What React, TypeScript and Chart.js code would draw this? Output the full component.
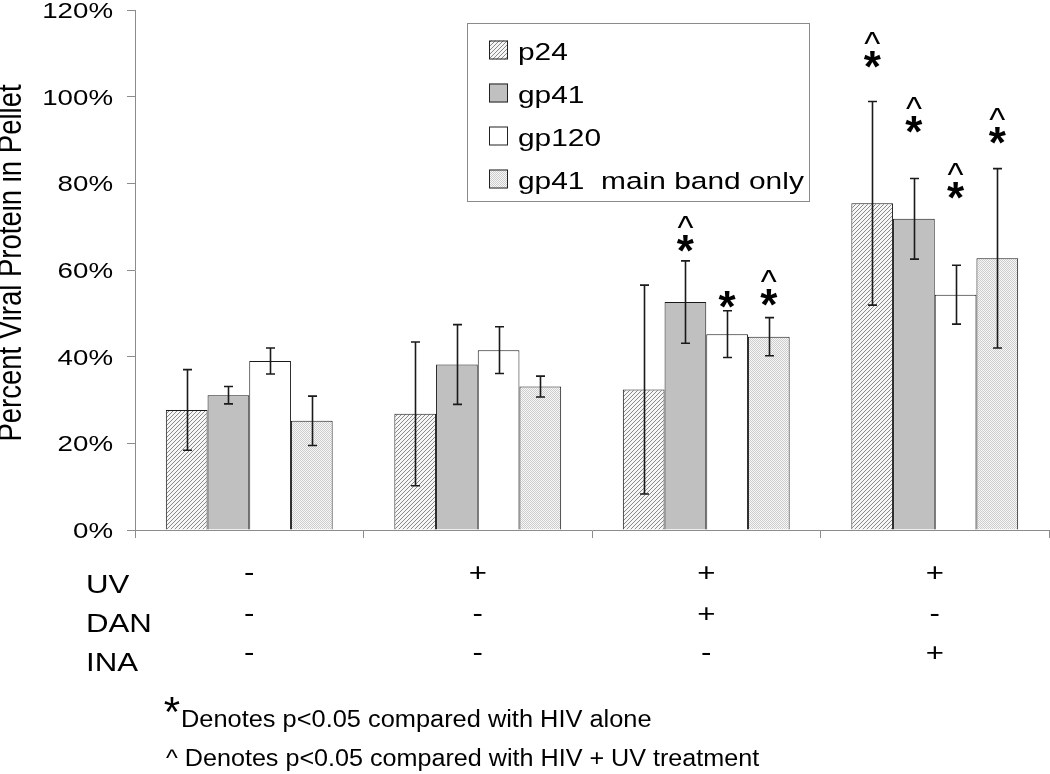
import React, { useEffect, useRef } from "react";
import { Chart, registerables } from "chart.js";

Chart.register(...registerables);

// ---------- data ----------
const categories = ["HIV alone", "HIV + UV", "HIV + UV + DAN", "HIV + UV + INA"];
const seriesNames = ["p24", "gp41", "gp120", "gp41  main band only"];

const p24 = [27.7, 26.8, 32.4, 75.4];
const p24Err = [9.3, 16.6, 24.1, 23.5];
const gp41 = [31.1, 38.2, 52.6, 71.8];
const gp41Err = [2.0, 9.2, 9.5, 9.3];
const gp120 = [39.0, 41.5, 45.2, 54.3];
const gp120Err = [3.0, 5.4, 5.4, 6.8];
const gp41Main = [25.2, 33.1, 44.6, 62.7];
const gp41MainErr = [5.7, 2.4, 4.4, 20.7];

// significance marks ("*" = vs HIV alone, "^" = vs HIV + UV) and the value level of the "*"
const p24Marks = ["", "", "", "^*"];
const p24MarkAt = [0, 0, 0, 108.9];
const gp41Marks = ["", "", "^*", "^*"];
const gp41MarkAt = [0, 0, 66.4, 93.9];
const gp120Marks = ["", "", "*", "^*"];
const gp120MarkAt = [0, 0, 53.6, 78.8];
const gp41MainMarks = ["", "", "^*", "^*"];
const gp41MainMarkAt = [0, 0, 53.9, 91.3];

const yTickValues = [0, 20, 40, 60, 80, 100, 120];

const rowLabels = ["UV", "DAN", "INA"];
const uvRow = ["-", "+", "+", "+"];
const danRow = ["-", "-", "+", "-"];
const inaRow = ["-", "-", "-", "+"];

const yTitle = "Percent Viral Protein in Pellet";
const footStar = "Denotes p<0.05 compared with HIV alone";
const footCaret = "^ Denotes p<0.05 compared with HIV + UV treatment";

// ---------- helpers ----------
const FONT = '"Liberation Sans", Arial, sans-serif';
const SX = 1.2;

function txt(
  ctx: CanvasRenderingContext2D,
  s: string,
  x: number,
  y: number,
  size: number,
  o: { align?: CanvasTextAlign; baseline?: CanvasTextBaseline; bold?: boolean; sx?: number; sy?: number; rot?: number } = {}
) {
  ctx.save();
  ctx.translate(x, y);
  if (o.rot) ctx.rotate(o.rot);
  ctx.scale(o.sx ?? SX, o.sy ?? 1);
  ctx.font = `${o.bold ? "bold " : ""}${size}px ${FONT}`;
  ctx.textAlign = o.align ?? "left";
  ctx.textBaseline = o.baseline ?? "alphabetic";
  ctx.fillStyle = "#000";
  ctx.fillText(s, 0, 0);
  ctx.restore();
}

function makeHatch(): CanvasPattern | string {
  const c = document.createElement("canvas");
  c.width = 4;
  c.height = 4;
  const g = c.getContext("2d");
  if (!g) return "#d8d8d8";
  g.fillStyle = "#f6f6f6";
  g.fillRect(0, 0, 4, 4);
  g.strokeStyle = "#8a8a8a";
  g.lineWidth = 1;
  g.beginPath();
  g.moveTo(-1, 5);
  g.lineTo(5, -1);
  g.moveTo(-1, 1);
  g.lineTo(1, -1);
  g.moveTo(3, 5);
  g.lineTo(5, 3);
  g.stroke();
  return g.createPattern(c, "repeat") ?? "#d8d8d8";
}

function makeDots(): CanvasPattern | string {
  const c = document.createElement("canvas");
  c.width = 2;
  c.height = 2;
  const g = c.getContext("2d");
  if (!g) return "#e6e6e6";
  g.fillStyle = "#f7f7f7";
  g.fillRect(0, 0, 2, 2);
  g.fillStyle = "#cdcdcd";
  g.fillRect(0, 0, 1, 1);
  g.fillRect(1, 1, 1, 1);
  return g.createPattern(c, "repeat") ?? "#e6e6e6";
}

export default function App() {
  const ref = useRef<HTMLCanvasElement | null>(null);

  useEffect(() => {
    document.body.style.margin = "0";
    const canvas = ref.current;
    if (!canvas) return;

    const fills = [makeHatch(), "#c0c0c0", "#ffffff", makeDots()];
    const values = [p24, gp41, gp120, gp41Main];
    const errs = [p24Err, gp41Err, gp120Err, gp41MainErr];
    const marks = [p24Marks, gp41Marks, gp120Marks, gp41MainMarks];
    const markAt = [p24MarkAt, gp41MarkAt, gp120MarkAt, gp41MainMarkAt];
    const tableRows = [uvRow, danRow, inaRow];

    const overlay = {
      id: "overlay",
      afterDatasetsDraw(chart: any) {
        const ctx: CanvasRenderingContext2D = chart.ctx;
        const ys = chart.scales.y;
        chart.data.datasets.forEach((ds: any, i: number) => {
          const meta = chart.getDatasetMeta(i);
          meta.data.forEach((bar: any, j: number) => {
            const v = ds.data[j];
            const e = errs[i][j];
            const x = Math.round(bar.x) + 0.5;
            const yt = ys.getPixelForValue(v + e);
            const yb = ys.getPixelForValue(Math.max(0, v - e));
            ctx.save();
            ctx.strokeStyle = "#1a1a1a";
            ctx.lineWidth = 1.6;
            ctx.beginPath();
            ctx.moveTo(x, yt);
            ctx.lineTo(x, yb);
            ctx.moveTo(x - 4.5, yt);
            ctx.lineTo(x + 4.5, yt);
            ctx.moveTo(x - 4.5, yb);
            ctx.lineTo(x + 4.5, yb);
            ctx.stroke();
            ctx.restore();
            const m = marks[i][j];
            if (m) {
              const yc = ys.getPixelForValue(markAt[i][j]);
              if (m.includes("*")) txt(ctx, "*", bar.x, yc + 24, 44, { align: "center", bold: true, sx: 1 });
              if (m.includes("^")) txt(ctx, "^", bar.x, yc - 21 + 18, 34, { align: "center", sx: 1 });
            }
          });
        });
      },
      afterDraw(chart: any) {
        const ctx: CanvasRenderingContext2D = chart.ctx;
        const ys = chart.scales.y;
        const xs = chart.scales.x;

        // y tick labels
        ys.ticks.forEach((t: any) => {
          txt(ctx, `${t.value}%`, 113, ys.getPixelForValue(t.value) + 8, 22.5, { align: "right", sx: 1.23 });
        });

        // y title
        txt(ctx, yTitle, 12, (ys.top + ys.bottom) / 2 - 7, 27.5, {
          align: "center",
          baseline: "middle",
          rot: -Math.PI / 2,
          sx: 1,
          sy: 1.2,
        });

        // legend
        const lx = 467, ly = 23, lw = 342, lh = 178;
        ctx.save();
        ctx.fillStyle = "#fff";
        ctx.fillRect(lx, ly, lw, lh);
        ctx.strokeStyle = "#8a8a8a";
        ctx.lineWidth = 1;
        ctx.strokeRect(lx + 0.5, ly + 0.5, lw, lh);
        ctx.restore();
        seriesNames.forEach((name, i) => {
          const cy = 50 + i * 43;
          ctx.save();
          ctx.fillStyle = fills[i] as any;
          ctx.fillRect(489, cy - 9.5, 19, 19);
          ctx.strokeStyle = "#222";
          ctx.lineWidth = 1;
          ctx.strokeRect(489.5, cy - 9, 18, 18);
          ctx.restore();
          txt(ctx, name, 518, cy + 9.5, 24.5, { sx: 1.22 });
        });

        // treatment table
        const labelBase = [593, 632, 671];
        const signBase = [581, 622, 661];
        rowLabels.forEach((lab, r) => {
          txt(ctx, lab, 86, labelBase[r], 26, { sx: 1.2 });
          tableRows[r].forEach((s, c) => {
            txt(ctx, s, xs.getPixelForValue(c), signBase[r], 26, { align: "center", sx: 1.2 });
          });
        });

        // footnotes
        txt(ctx, "*", 172, 726, 42, { align: "center", sx: 1 });
        txt(ctx, footStar, 181, 727, 23.5, { sx: 1.08 });
        txt(ctx, footCaret, 166, 766, 23.5, { sx: 1.07 });
      },
    };

    const chart = new Chart(canvas, {
      type: "bar",
      data: {
        labels: categories,
        datasets: seriesNames.map((name, i) => ({
          label: name,
          data: values[i],
          backgroundColor: fills[i] as any,
          borderColor: "#1a1a1a",
          borderWidth: 1,
          categoryPercentage: 0.73,
          barPercentage: 1.0,
        })),
      },
      options: {
        animation: false,
        responsive: false,
        devicePixelRatio: 1,
        layout: { padding: { top: 10, right: 1, left: 0, bottom: 0 } },
        plugins: { legend: { display: false }, tooltip: { enabled: false } },
        scales: {
          x: {
            grid: { display: true, drawOnChartArea: false, drawTicks: true, tickLength: 8, color: "#8c8c8c", offset: true },
            border: { display: true, color: "#8c8c8c", width: 1 },
            ticks: { display: false },
            afterFit: (s: any) => {
              s.height = 244;
            },
          },
          y: {
            min: 0,
            max: 120,
            afterBuildTicks: (s: any) => {
              s.ticks = yTickValues.map((v) => ({ value: v }));
            },
            grid: { display: true, drawOnChartArea: false, drawTicks: true, tickLength: 8, color: "#8c8c8c" },
            border: { display: true, color: "#8c8c8c", width: 1 },
            ticks: { display: false },
            afterFit: (s: any) => {
              s.width = 135;
            },
          },
        },
      },
      plugins: [overlay],
    });

    return () => chart.destroy();
  }, []);

  return (
    <div style={{ width: 1050, height: 774, background: "#fff" }}>
      <canvas ref={ref} width={1050} height={774} style={{ display: "block" }} />
    </div>
  );
}
